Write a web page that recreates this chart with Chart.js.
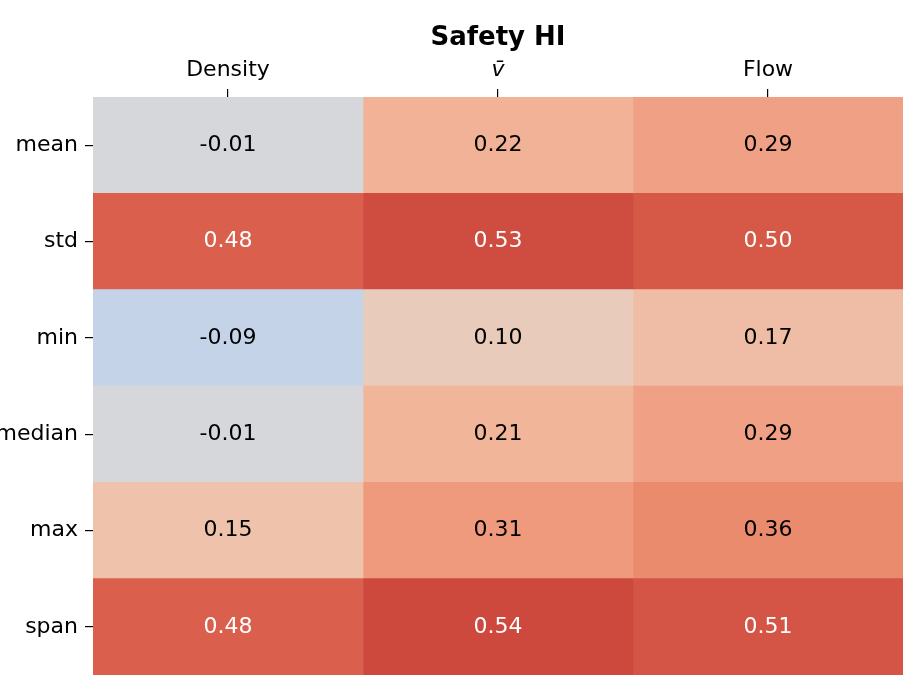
<!DOCTYPE html>
<html><head><meta charset="utf-8">
<script src="https://cdn.jsdelivr.net/npm/chart.js@4/dist/chart.umd.min.js"></script>
<style>html,body{margin:0;padding:0;background:#fff}#wrap{width:920px;height:700px}</style>
</head><body><div id="wrap"><canvas id="c" width="920" height="700"></canvas></div>
<script>
const title = "Safety HI";
const columns = ["Density", "v\u0304", "Flow"];
const rows = ["mean", "std", "min", "median", "max", "span"];
const colDensity = [-0.01, 0.48, -0.09, -0.01, 0.15, 0.48];
const colVbar    = [0.22, 0.53, 0.10, 0.21, 0.31, 0.54];
const colFlow    = [0.29, 0.50, 0.17, 0.29, 0.36, 0.51];
const colValues = [colDensity, colVbar, colFlow];
const vmin = -0.65, vmax = 0.65;

// coolwarm colormap table
const CW = [[59,76,192],[68,90,204],[77,104,215],[87,117,225],[98,130,234],[108,142,241],[119,154,247],[130,165,251],[141,176,254],[152,185,255],[163,194,255],[174,201,253],[184,208,249],[194,213,244],[204,217,238],[213,219,230],[221,221,221],[229,216,209],[236,211,197],[241,204,184],[245,196,172],[247,187,160],[247,177,148],[247,166,137],[244,154,123],[241,141,111],[236,127,99],[229,112,88],[222,96,77],[213,80,66],[203,62,56],[192,40,47],[180,4,38]];
function cmap(v){
  let t = (v - vmin)/(vmax - vmin); t = Math.max(0, Math.min(1, t));
  const f = t*(CW.length-1); const i = Math.min(CW.length-2, Math.floor(f)); const r = f - i;
  return CW[i].map((a,k)=>Math.round((a + (CW[i+1][k]-a)*r)*0.975));
}
function rgb(c){return `rgb(${c[0]},${c[1]},${c[2]})`;}
function lum(c){
  const l = c.map(x=>{x/=255;return x<=0.03928?x/12.92:Math.pow((x+0.055)/1.055,2.4);});
  return 0.2126*l[0]+0.7152*l[1]+0.0722*l[2];
}

const datasets = colValues.map((vals, ci) => ({
  label: columns[ci],
  data: vals.map(() => [ci, ci+1]),
  backgroundColor: vals.map(v => rgb(cmap(v))),
  borderWidth: 0,
  categoryPercentage: 1.0,
  barPercentage: 1.0,
  grouped: false
}));

const annot = {
  id: 'annot',
  afterDatasetsDraw(chart){
    const ctx = chart.ctx, xs = chart.scales.x, ys = chart.scales.y, ca = chart.chartArea;
    ctx.save();
    ctx.font = '22px "DejaVu Sans"';
    ctx.textAlign = 'center'; ctx.textBaseline = 'middle';
    colValues.forEach((vals, ci) => vals.forEach((v, ri) => {
      const c = cmap(v);
      ctx.fillStyle = lum(c) > 0.33 ? '#000' : '#fff';
      ctx.fillText(v.toFixed(2), xs.getPixelForValue(ci+0.5), ys.getPixelForValue(ri));
    }));
    ctx.font = 'bold 26px "DejaVu Sans"';
    ctx.fillStyle = '#000';
    ctx.fillText(title, (ca.left + ca.right)/2, 38);
    ctx.restore();
  }
};

new Chart(document.getElementById('c'), {
  type: 'bar',
  data: { labels: rows, datasets },
  options: {
    indexAxis: 'y',
    responsive: false,
    animation: false,
    layout: { padding: { left: 0, right: 17, top: 53, bottom: 25 } },
    plugins: {
      legend: { display: false },
      tooltip: { enabled: false },
      title: { display: false }
    },
    scales: {
      x: {
        type: 'linear', position: 'top', min: 0, max: 3,
        afterBuildTicks(scale){ scale.ticks = [{value:0.5},{value:1.5},{value:2.5}]; },
        afterFit(scale){ scale.height = 44; },
        border: { display: false },
        grid: { drawOnChartArea: false, drawTicks: true, tickLength: 8, color: '#000', lineWidth: 1.2 },
        ticks: {
          autoSkip: false, maxRotation: 0, padding: 6, color: '#000',
          font: (ctx) => ({ family: 'DejaVu Sans', size: 22, style: (ctx.index === 1 ? 'italic' : 'normal') }),
          callback: (v) => columns[Math.round(v - 0.5)]
        }
      },
      y: {
        type: 'category', position: 'left', offset: true,
        afterFit(scale){ scale.width = 93; },
        border: { display: false },
        grid: { drawOnChartArea: false, drawTicks: true, tickLength: 8, color: '#000', lineWidth: 1.2, offset: false },
        ticks: { autoSkip: false, padding: 7, color: '#000', font: { family: 'DejaVu Sans', size: 22 } }
      }
    }
  },
  plugins: [annot]
});
</script></body></html>
